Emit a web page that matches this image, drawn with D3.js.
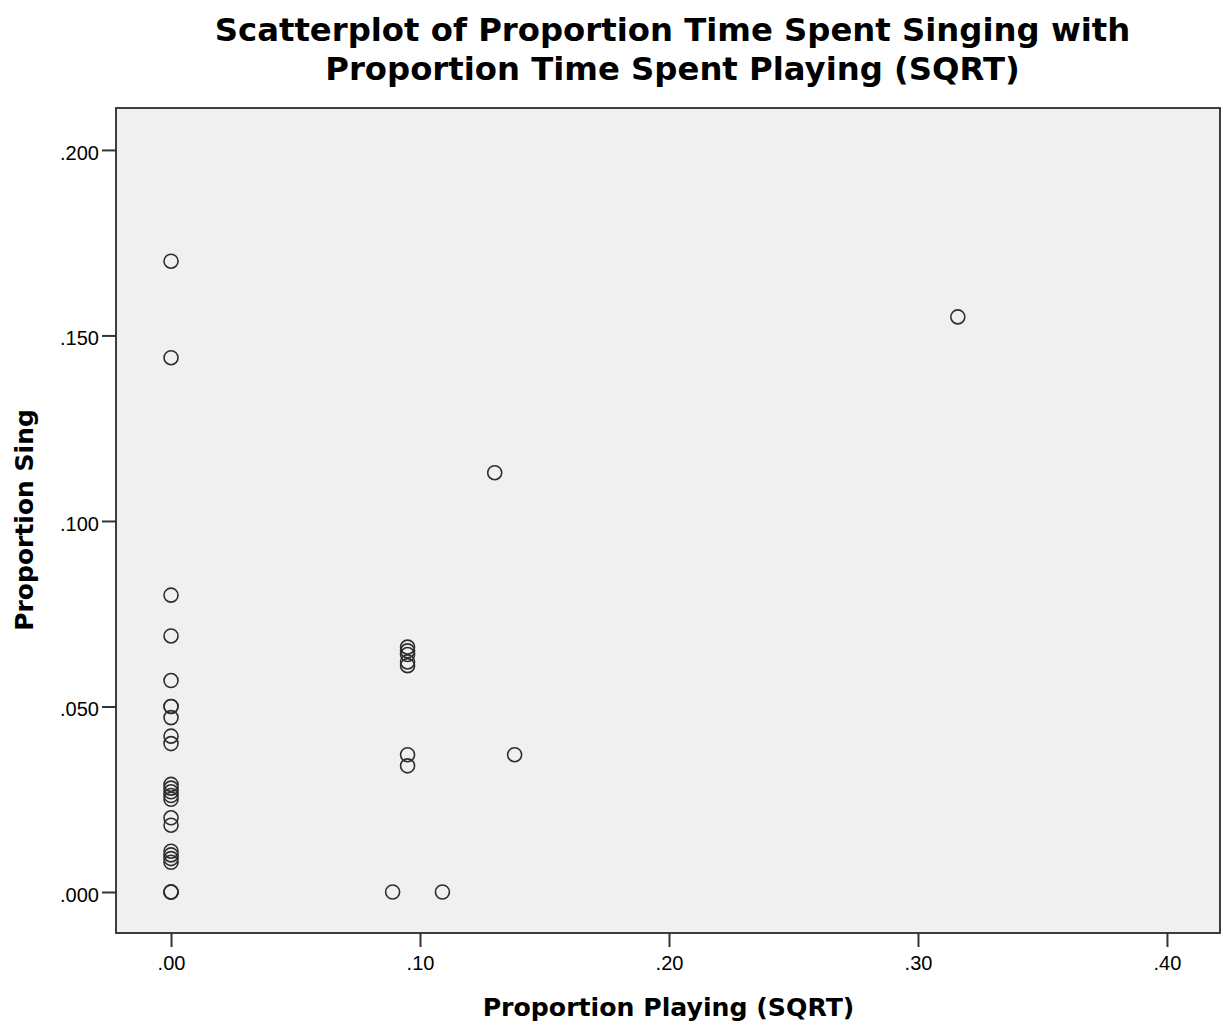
<!DOCTYPE html>
<html>
<head>
<meta charset="utf-8">
<script src="https://cdn.jsdelivr.net/npm/d3@7"></script>
<style>
html,body{margin:0;padding:0;background:#fff;}
svg{display:block;}
text{fill:#000;}
</style>
</head>
<body>
<svg id="chart" width="1221" height="1028"></svg>
<script>
// Data
const playing = [
  0,0,0,0,0,0,0,0,0,0,0,0,0,0,0,0,0,0,0,0,0,0,0,0,
  0.095,0.095,0.095,0.095,0.095,0.095,0.095,
  0.089,0.109,0.130,0.138,0.316
];
const singing = [
  0.170,0.144,0.080,0.069,0.057,0.050,0.050,0.047,0.042,0.040,
  0.029,0.028,0.027,0.026,0.025,0.020,0.018,0.011,0.010,0.009,0.008,0.000,0.000,0.000,
  0.066,0.065,0.064,0.062,0.061,0.037,0.034,
  0.000,0.000,0.113,0.037,0.155
];
const xTicks = [0, 0.1, 0.2, 0.3, 0.4];
const yTicks = [0, 0.05, 0.1, 0.15, 0.2];
const titleLines = ["Scatterplot of Proportion Time Spent Singing with", "Proportion Time Spent Playing (SQRT)"];
const xLabel = "Proportion Playing (SQRT)";
const yLabel = "Proportion Sing";

const svg = d3.select("#chart");
const L = 116, R = 1220, T = 108, B = 933;
const boldFont = "'DejaVu Sans', Verdana, sans-serif";
const tickFont = "'Liberation Sans', Arial, sans-serif";

const x = d3.scaleLinear().domain([-0.0221, 0.4213]).range([L, R]);
const y = d3.scaleLinear().domain([-0.01105, 0.2113]).range([B, T]);

svg.append("rect").attr("x", L).attr("y", T).attr("width", R - L).attr("height", B - T)
  .attr("fill", "#f0f0f0").attr("stroke", "none");

const fmtX = d => d3.format(".2f")(d).replace(/^0/, "");
const fmtY = d => d3.format(".3f")(d).replace(/^0/, "");

const xAxis = svg.append("g").attr("transform", `translate(0,${B})`)
  .call(d3.axisBottom(x).tickValues(xTicks).tickFormat(fmtX).tickSize(14).tickPadding(9));
const yAxis = svg.append("g").attr("transform", `translate(${L},0)`)
  .call(d3.axisLeft(y).tickValues(yTicks).tickFormat(fmtY).tickSize(14).tickPadding(3));
[xAxis, yAxis].forEach(g => {
  g.select(".domain").remove();
  g.selectAll(".tick line").attr("stroke", "#333").attr("stroke-width", 2);
  g.selectAll(".tick text").attr("font-size", 20).attr("font-family", tickFont).attr("fill", "#111");
});
yAxis.selectAll(".tick text").attr("dy", "0.47em");

svg.append("rect").attr("x", L).attr("y", T).attr("width", R - L).attr("height", B - T)
  .attr("fill", "none").attr("stroke", "#2a2a2a").attr("stroke-width", 1.8);

const pts = playing.map((p, i) => ({ p, s: singing[i] }));
svg.append("g").selectAll("circle").data(pts).join("circle")
  .attr("cx", d => x(d.p)).attr("cy", d => y(d.s)).attr("r", 7)
  .attr("fill", "none").attr("stroke", "#2e2e2e").attr("stroke-width", 1.6);

svg.append("text").attr("text-anchor", "middle").attr("font-weight", "bold").attr("font-size", 32.3)
  .attr("font-family", boldFont)
  .selectAll("tspan").data(titleLines).join("tspan")
  .attr("x", 672.5).attr("y", (d, i) => 41 + i * 38.5).text(d => d);

svg.append("text").attr("x", 668.5).attr("y", 1016).attr("text-anchor", "middle")
  .attr("font-family", boldFont).attr("font-weight", "bold").attr("font-size", 25.2).text(xLabel);

svg.append("text").attr("transform", "translate(33,520) rotate(-90)").attr("text-anchor", "middle")
  .attr("font-family", boldFont).attr("font-weight", "bold").attr("font-size", 25).text(yLabel);
</script>
</body>
</html>
